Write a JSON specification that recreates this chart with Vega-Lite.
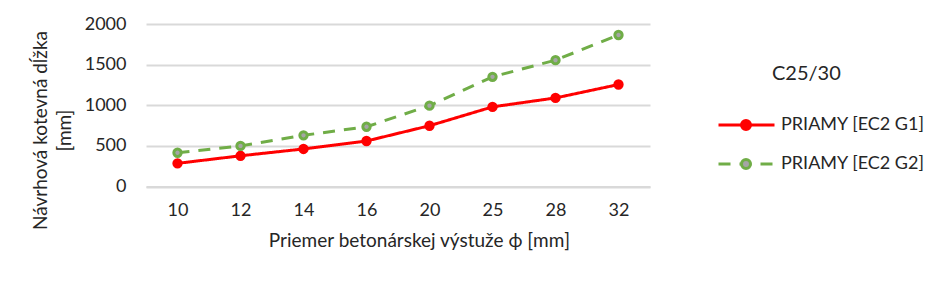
{
  "$schema": "https://vega.github.io/schema/vega-lite/v6.json",
  "autosize": "none",
  "width": 504,
  "height": 162.5,
  "padding": {"left": 146, "top": 24, "right": 297, "bottom": 98.5},
  "background": "white",
  "title": {
    "text": "C25/30", "anchor": "start", "frame": "group", "orient": "top", "offset": 0,
    "dx": 626, "dy": 79, "baseline": "middle",
    "font": "Lato", "fontSize": 20, "fontWeight": "normal", "color": "#262626"
  },
  "config": {
    "font": "Lato",
    "view": {"stroke": null},
    "axis": {"labelFont": "Lato", "titleFont": "Lato", "labelColor": "#262626", "titleColor": "#262626", "titleFontWeight": "normal"},
    "legend": {
      "orient": "none", "legendY": 91,
      "labelFontSize": 18, "rowPadding": 19, "clipHeight": 20,
      "symbolStrokeWidth": 3, "padding": 0, "symbolOpacity": 1
    }
  },
  "data": {
    "values": [
      {"d": "10", "s": "PRIAMY [EC2 G1]", "v": 285},
      {"d": "12", "s": "PRIAMY [EC2 G1]", "v": 378},
      {"d": "14", "s": "PRIAMY [EC2 G1]", "v": 462},
      {"d": "16", "s": "PRIAMY [EC2 G1]", "v": 560},
      {"d": "20", "s": "PRIAMY [EC2 G1]", "v": 748},
      {"d": "25", "s": "PRIAMY [EC2 G1]", "v": 980},
      {"d": "28", "s": "PRIAMY [EC2 G1]", "v": 1090},
      {"d": "32", "s": "PRIAMY [EC2 G1]", "v": 1255},
      {"d": "10", "s": "PRIAMY [EC2 G2]", "v": 415},
      {"d": "12", "s": "PRIAMY [EC2 G2]", "v": 500},
      {"d": "14", "s": "PRIAMY [EC2 G2]", "v": 630},
      {"d": "16", "s": "PRIAMY [EC2 G2]", "v": 735},
      {"d": "20", "s": "PRIAMY [EC2 G2]", "v": 995},
      {"d": "25", "s": "PRIAMY [EC2 G2]", "v": 1350},
      {"d": "28", "s": "PRIAMY [EC2 G2]", "v": 1555},
      {"d": "32", "s": "PRIAMY [EC2 G2]", "v": 1865}
    ]
  },
  "encoding": {
    "x": {
      "field": "d", "type": "ordinal", "sort": null,
      "scale": {"type": "point", "padding": 0.5},
      "axis": {
        "title": "Priemer betonárskej výstuže ϕ [mm]",
        "titleFontSize": 19, "titlePadding": 12, "titleX": 273,
        "labelFontSize": 18, "labelAngle": 0, "labelPadding": 15,
        "ticks": false, "domainColor": "#d9d9d9", "domainWidth": 2, "grid": false
      }
    },
    "y": {
      "field": "v", "type": "quantitative",
      "scale": {"domain": [0, 2000], "nice": false},
      "axis": {
        "title": ["Návrhová kotevná dĺžka", "[mm]"],
        "titleFontSize": 19, "titleLineHeight": 24,
        "titleX": -106, "titleY": 106, "titleBaseline": "middle", "titleAngle": -90,
        "values": [0, 500, 1000, 1500, 2000], "format": "d",
        "labelFontSize": 18, "labelPadding": 20,
        "ticks": false, "domain": false,
        "gridColor": "#d9d9d9", "gridWidth": 2
      }
    }
  },
  "layer": [
    {
      "mark": {"type": "line", "strokeWidth": 3},
      "encoding": {
        "color": {
          "field": "s", "type": "nominal", "scale": {"range": ["#ff0000", "#70ad47"]},
          "legend": {"title": null, "labelExpr": "''", "legendX": 571, "symbolType": "stroke", "symbolSize": 3136}
        },
        "strokeDash": {
          "field": "s", "type": "nominal", "scale": {"range": [[1, 0], [12, 9]]},
          "legend": {"title": null, "labelExpr": "''", "legendX": 571, "symbolType": "stroke", "symbolSize": 3136}
        }
      }
    },
    {
      "mark": {"type": "point", "filled": true, "size": 54, "strokeWidth": 3, "opacity": 1},
      "encoding": {
        "fill": {
          "field": "s", "type": "nominal",
          "scale": {"domain": ["PRIAMY [EC2 G1]", "PRIAMY [EC2 G2]"], "range": ["#ff0000", "#a5a5a5"]},
          "legend": {"title": null, "labelColor": "#262626", "legendX": 591, "symbolType": "circle", "symbolSize": 80, "labelOffset": 26}
        },
        "stroke": {
          "field": "s", "type": "nominal",
          "scale": {"domain": ["PRIAMY [EC2 G1]", "PRIAMY [EC2 G2]"], "range": ["#ff0000", "#70ad47"]},
          "legend": {"title": null, "labelColor": "#262626", "legendX": 591, "symbolType": "circle", "symbolSize": 80, "labelOffset": 26}
        }
      }
    }
  ]
}
